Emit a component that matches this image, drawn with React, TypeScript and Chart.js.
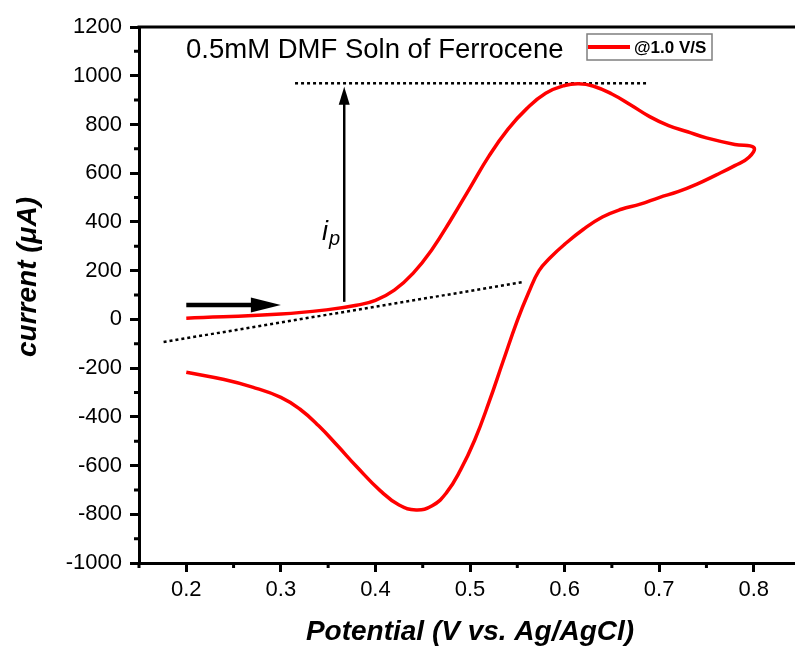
import { useEffect, useRef } from "react";
import { Chart, registerables } from "chart.js";

Chart.register(...registerables);

// Text
const seriesLabel = "@1.0 V/S";
const chartTitle = "0.5mM DMF Soln of Ferrocene";
const xTitle = "Potential (V vs. Ag/AgCl)";
const yTitle = "current (\u03BCA)";

// Cyclic voltammogram, anodic sweep 0.2 V -> 0.8 V
const forwardPotential = [
  0.2, 0.3, 0.35, 0.38, 0.4, 0.42, 0.44, 0.46, 0.48, 0.5, 0.52, 0.54, 0.56,
  0.58, 0.6, 0.615, 0.63, 0.65, 0.67, 0.69, 0.71, 0.73, 0.75, 0.78, 0.8,
];
const forwardCurrent = [
  5, 22, 40, 58, 78, 120, 190, 288, 410, 540, 670, 780, 865, 928, 960, 967,
  958, 925, 880, 832, 795, 770, 745, 718, 706,
];

// Cathodic sweep 0.8 V -> 0.2 V
const reversePotential = [
  0.795, 0.78, 0.76, 0.74, 0.72, 0.7, 0.68, 0.66, 0.64, 0.62, 0.6, 0.585,
  0.573, 0.562, 0.55, 0.535, 0.52, 0.505, 0.49, 0.475, 0.46, 0.443, 0.425,
  0.405, 0.38, 0.36, 0.34, 0.32, 0.3, 0.27, 0.24, 0.2,
];
const reverseCurrent = [
  665, 631, 592, 555, 524, 500, 473, 452, 420, 370, 308, 254, 200, 110, -5,
  -172, -341, -495, -618, -712, -765, -782, -762, -703, -604, -519, -437, -368,
  -320, -278, -247, -217,
];

// Axes
const xRange = [0.15, 0.85];
const yRange = [-1000, 1200];
const xTicks = [0.2, 0.3, 0.4, 0.5, 0.6, 0.7, 0.8];
const yTicks = [-1000, -800, -600, -400, -200, 0, 200, 400, 600, 800, 1000, 1200];
const xMinorTicks = [0.15, 0.25, 0.35, 0.45, 0.55, 0.65, 0.75, 0.85];
const yMinorTicks = [-900, -700, -500, -300, -100, 100, 300, 500, 700, 900, 1100];

// Peak-current construction
const baselinePotential = [0.176, 0.556];
const baselineCurrent = [-93, 153];
const peakLinePotential = [0.315, 0.688];
const peakLineCurrent = [969, 969];
const ipArrowPotential = 0.367;
const ipArrowCurrent = [72, 955];
const ipLabelPoint = [0.3435, 326];
const scanArrowPotential = [0.2, 0.3];
const scanArrowCurrent = 59;

const FONT = "'Liberation Sans', Arial, Helvetica, sans-serif";

const toPoints = (xs: number[], ys: number[]) => xs.map((x, i) => ({ x, y: ys[i] }));

const decorations = {
  id: "cvDecorations",
  afterDatasetsDraw(chart: any) {
    const { ctx, chartArea, scales } = chart;
    const xs = scales.x;
    const ys = scales.y;
    ctx.save();

    // top frame line
    ctx.strokeStyle = "#000";
    ctx.lineWidth = 3;
    ctx.beginPath();
    ctx.moveTo(chartArea.left - 1.5, chartArea.top);
    ctx.lineTo(chartArea.right + 1.5, chartArea.top);
    ctx.stroke();

    // minor ticks
    ctx.lineWidth = 3;
    ctx.beginPath();
    xMinorTicks.forEach((v) => {
      const px = xs.getPixelForValue(v);
      ctx.moveTo(px, chartArea.bottom);
      ctx.lineTo(px, chartArea.bottom + 5);
    });
    yMinorTicks.forEach((v) => {
      const py = ys.getPixelForValue(v);
      ctx.moveTo(chartArea.left, py);
      ctx.lineTo(chartArea.left - 5, py);
    });
    ctx.stroke();

    // vertical i_p arrow
    const ax = xs.getPixelForValue(ipArrowPotential);
    const ay0 = ys.getPixelForValue(ipArrowCurrent[0]);
    const ay1 = ys.getPixelForValue(ipArrowCurrent[1]);
    ctx.fillStyle = "#000";
    ctx.lineWidth = 2.5;
    ctx.beginPath();
    ctx.moveTo(ax, ay0);
    ctx.lineTo(ax, ay1 + 14);
    ctx.stroke();
    ctx.beginPath();
    ctx.moveTo(ax, ay1);
    ctx.lineTo(ax - 5.5, ay1 + 18);
    ctx.lineTo(ax + 5.5, ay1 + 18);
    ctx.closePath();
    ctx.fill();

    // scan direction arrow
    const sx0 = xs.getPixelForValue(scanArrowPotential[0]);
    const sx1 = xs.getPixelForValue(scanArrowPotential[1]);
    const sy = ys.getPixelForValue(scanArrowCurrent);
    ctx.lineWidth = 4.5;
    ctx.beginPath();
    ctx.moveTo(sx0, sy);
    ctx.lineTo(sx1 - 26, sy);
    ctx.stroke();
    ctx.beginPath();
    ctx.moveTo(sx1, sy);
    ctx.lineTo(sx1 - 30, sy - 7.5);
    ctx.lineTo(sx1 - 30, sy + 7.5);
    ctx.closePath();
    ctx.fill();

    // i_p label
    const lx = xs.getPixelForValue(ipLabelPoint[0]);
    const ly = ys.getPixelForValue(ipLabelPoint[1]);
    ctx.textAlign = "left";
    ctx.textBaseline = "alphabetic";
    ctx.font = `italic 27px ${FONT}`;
    ctx.fillText("i", lx, ly);
    ctx.font = `italic 20px ${FONT}`;
    ctx.fillText("p", lx + 7, ly + 5);

    // chart title
    ctx.font = `27.5px ${FONT}`;
    ctx.textBaseline = "middle";
    ctx.fillText(chartTitle, chartArea.left + 47, chartArea.top + 23);

    // legend
    const bx = chartArea.left + 448;
    const by = chartArea.top + 7;
    const bw = 125;
    const bh = 26;
    ctx.strokeStyle = "#7f7f7f";
    ctx.lineWidth = 1.5;
    ctx.strokeRect(bx, by, bw, bh);
    ctx.strokeStyle = "#ff0000";
    ctx.lineWidth = 4;
    ctx.beginPath();
    ctx.moveTo(bx + 1, by + bh / 2);
    ctx.lineTo(bx + 43, by + bh / 2);
    ctx.stroke();
    ctx.font = `bold 17px ${FONT}`;
    ctx.fillStyle = "#000";
    ctx.fillText(chart.data.datasets[0].label, bx + 47, by + bh / 2 + 1);

    // y-axis title
    ctx.translate(28, 277);
    ctx.rotate(-Math.PI / 2);
    ctx.textAlign = "center";
    ctx.font = `italic bold 28px ${FONT}`;
    ctx.fillText(yTitle, 0, 0);

    ctx.restore();
  },
};

export default function App() {
  const canvasRef = useRef<HTMLCanvasElement | null>(null);

  useEffect(() => {
    const canvas = canvasRef.current;
    if (!canvas) return;
    const cvPoints = [
      ...toPoints(forwardPotential, forwardCurrent),
      ...toPoints(reversePotential, reverseCurrent),
    ];
    const chart = new Chart(canvas, {
      type: "scatter",
      data: {
        datasets: [
          {
            label: seriesLabel,
            data: cvPoints,
            showLine: true,
            borderColor: "#ff0000",
            borderWidth: 3.5,
            borderJoinStyle: "round",
            pointRadius: 0,
            tension: 0.45,
            fill: false,
          },
          {
            label: "baseline",
            data: toPoints(baselinePotential, baselineCurrent),
            showLine: true,
            borderColor: "#000",
            borderWidth: 2.5,
            borderDash: [3, 3],
            pointRadius: 0,
          },
          {
            label: "peak",
            data: toPoints(peakLinePotential, peakLineCurrent),
            showLine: true,
            borderColor: "#000",
            borderWidth: 2.5,
            borderDash: [3, 3],
            pointRadius: 0,
          },
        ],
      },
      options: {
        animation: false,
        responsive: true,
        maintainAspectRatio: false,
        layout: { padding: { left: 0, top: 27, right: 29, bottom: 0 } },
        plugins: {
          legend: { display: false },
          tooltip: { enabled: false },
        },
        scales: {
          x: {
            type: "linear",
            min: xRange[0],
            max: xRange[1],
            afterBuildTicks: (scale: any) => {
              scale.ticks = xTicks.map((value) => ({ value }));
            },
            afterFit: (scale: any) => {
              scale.height = 88;
            },
            ticks: {
              color: "#000",
              font: { family: FONT, size: 22 },
              padding: 5,
              maxRotation: 0,
              callback: (v: any) => Number(v).toFixed(1),
            },
            grid: {
              drawOnChartArea: false,
              tickLength: 9,
              tickWidth: 3,
              tickColor: "#000",
            },
            border: { display: true, color: "#000", width: 3 },
            title: {
              display: true,
              text: xTitle,
              color: "#000",
              font: { family: FONT, size: 28, weight: "bold", style: "italic" },
              padding: { top: 2, bottom: 2 },
            },
          },
          y: {
            type: "linear",
            min: yRange[0],
            max: yRange[1],
            afterBuildTicks: (scale: any) => {
              scale.ticks = yTicks.map((value) => ({ value }));
            },
            afterFit: (scale: any) => {
              scale.width = 139;
            },
            ticks: {
              color: "#000",
              font: { family: FONT, size: 22 },
              padding: 8,
              callback: (v: any) => String(v),
            },
            grid: {
              drawOnChartArea: false,
              tickLength: 9,
              tickWidth: 3,
              tickColor: "#000",
            },
            border: { display: true, color: "#000", width: 3 },
          },
        },
      },
      plugins: [decorations],
    } as any);
    return () => chart.destroy();
  }, []);

  return (
    <div
      style={{
        position: "fixed",
        left: 0,
        top: 0,
        width: 795,
        height: 651,
        overflow: "hidden",
        background: "#fff",
      }}
    >
      <div style={{ position: "relative", width: 830, height: 651 }}>
        <canvas ref={canvasRef} />
      </div>
    </div>
  );
}
